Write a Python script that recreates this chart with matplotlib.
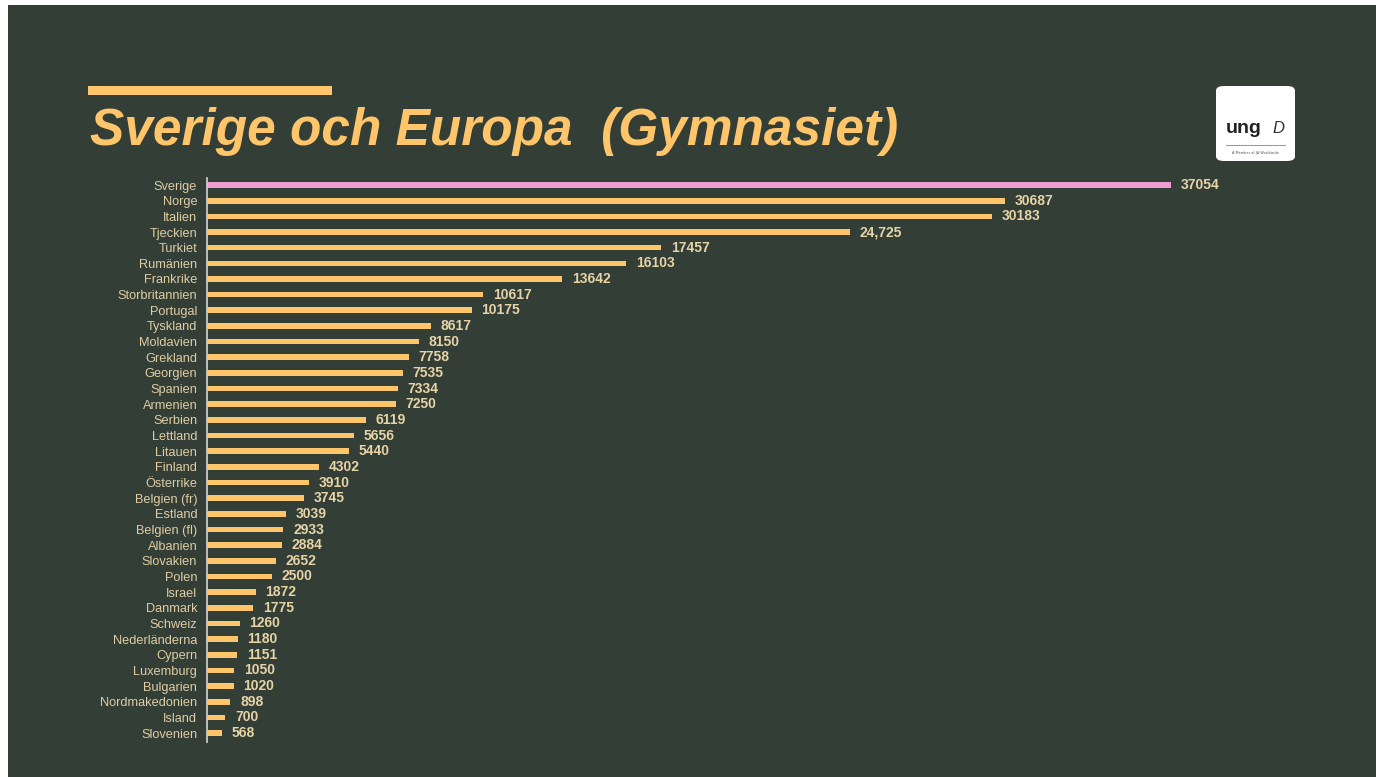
import matplotlib
matplotlib.use("Agg")
import matplotlib.pyplot as plt
from matplotlib.patches import FancyBboxPatch, Rectangle

countries = ["Sverige", "Norge", "Italien", "Tjeckien", "Turkiet", "Rumänien", "Frankrike",
             "Storbritannien", "Portugal", "Tyskland", "Moldavien", "Grekland", "Georgien",
             "Spanien", "Armenien", "Serbien", "Lettland", "Litauen", "Finland", "Österrike",
             "Belgien (fr)", "Estland", "Belgien (fl)", "Albanien", "Slovakien", "Polen",
             "Israel", "Danmark", "Schweiz", "Nederländerna", "Cypern", "Luxemburg",
             "Bulgarien", "Nordmakedonien", "Island", "Slovenien"]
values = [37054, 30687, 30183, 24725, 17457, 16103, 13642, 10617, 10175, 8617, 8150, 7758,
          7535, 7334, 7250, 6119, 5656, 5440, 4302, 3910, 3745, 3039, 2933, 2884, 2652, 2500,
          1872, 1775, 1260, 1180, 1151, 1050, 1020, 898, 700, 568]
value_labels = ["37054", "30687", "30183", "24,725", "17457", "16103", "13642", "10617",
                "10175", "8617", "8150", "7758", "7535", "7334", "7250", "6119", "5656",
                "5440", "4302", "3910", "3745", "3039", "2933", "2884", "2652", "2500",
                "1872", "1775", "1260", "1180", "1151", "1050", "1020", "898", "700", "568"]
title = "Sverige och Europa  (Gymnasiet)"

BG = "#333e37"
BAR = "#ffc56b"
PINK = "#f09ccf"
LABEL = "#dfcda3"
VAL = "#e6d3a6"

W, H = 1376, 777
fig = plt.figure(figsize=(W / 100, H / 100), dpi=100)
fig.patch.set_facecolor("white")
# slide background (white margin at left and top)
fig.patches.append(Rectangle((8 / W, 0), 1 - 8 / W, 1 - 5 / H, transform=fig.transFigure,
                             facecolor=BG, edgecolor="none", zorder=-5))
# accent line
fig.patches.append(Rectangle((88 / W, 1 - 95 / H), (332 - 88) / W, 9 / H,
                             transform=fig.transFigure, facecolor=BAR, edgecolor="none", zorder=1))
fig.text(90 / W, 1 - 145 / H, title, fontsize=37, fontweight="bold", fontstyle="italic",
         color=BAR, family="Liberation Sans", ha="left", va="baseline")

# logo box
fig.patches.append(FancyBboxPatch((1216 / W, 1 - 161 / H), 79 / W, 75 / H,
                                  boxstyle="round,pad=0,rounding_size=0.006",
                                  transform=fig.transFigure, facecolor="white",
                                  edgecolor="none", zorder=2))
fig.text(1244 / W, 1 - 133 / H, "ung", fontsize=14, fontweight="bold", color="#222222",
         family="Liberation Sans", ha="center", va="baseline", zorder=3)
fig.text(1278 / W, 1 - 133 / H, "D", fontsize=12, fontstyle="italic", color="#333333",
         family="Liberation Sans", ha="center", va="baseline", zorder=3)
fig.patches.append(Rectangle((1226 / W, 1 - 146 / H), 60 / W, 0.6 / H, transform=fig.transFigure,
                             facecolor="#999999", edgecolor="none", zorder=3))
fig.text(1255 / W, 1 - 153 / H, "A Member of JA Worldwide", fontsize=2.5, color="#555555",
         ha="center", va="center", zorder=3)

# axes
x0, x1 = 207, 1300
y_top, y_bot = 178, 742
ax = fig.add_axes([x0 / W, 1 - y_bot / H, (x1 - x0) / W, (y_bot - y_top) / H], zorder=5)
ax.set_facecolor("none")
n = len(countries)
ypos = list(range(n))
colors = [PINK] + [BAR] * (n - 1)
bars = ax.barh(ypos, values, height=0.36, color=colors, zorder=2)
scale = (1171 - 207) / 37054
ax.set_xlim(0, (x1 - x0) / scale)
ax.set_ylim(n - 1 + 0.57, -0.45)
ax.set_yticks(ypos)
ax.set_yticklabels(countries, fontsize=9.2, color=LABEL, family="Liberation Sans")
ax.tick_params(axis="y", length=0, pad=7)
ax.set_xticks([])
for s in ["top", "right", "bottom"]:
    ax.spines[s].set_visible(False)
ax.spines["left"].set_color("#c9c9c9")
ax.spines["left"].set_linewidth(1.3)
for b, lab in zip(bars, value_labels):
    ax.annotate(lab, (b.get_width(), b.get_y() + b.get_height() / 2), xytext=(7, 0),
                textcoords="offset points", va="center", ha="left", fontsize=10,
                fontweight="bold", color=VAL, family="Liberation Sans")

fig.savefig("out.png", dpi=100, facecolor=fig.get_facecolor())
